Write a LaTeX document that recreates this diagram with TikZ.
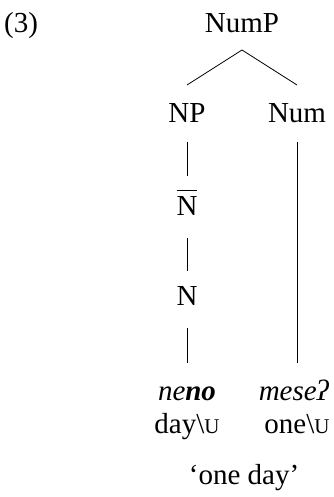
\documentclass[tikz,border=0pt]{standalone}
\usepackage{fontspec}
\setmainfont{Liberation Serif}
\begin{document}
\begin{tikzpicture}[x=1pt,y=-1pt,
  lab/.style={inner sep=0pt, outer sep=0pt, text height=20pt, text depth=6pt, anchor=base, font=\fontsize{29}{34}\selectfont},
  edge/.style={line width=0.8pt}]
\useasboundingbox (0,0) rectangle (333,497);
\newcommand{\sclU}{{\fontsize{21}{25}\selectfont U}}
\node[lab] (ex) at (21,33) {(3)};
\node[lab] (NumP) at (242,33) {NumP};
\node[lab] (NP) at (187,123) {NP};
\node[lab] (Num) at (297,123) {Num};
\node[lab] (Nbar) at (187,215) {\vbox{\hrule height 1.2pt\kern5pt\hbox{N}}};
\node[lab] (N) at (187,305) {N};
\node[lab] (neno) at (187,400) {\textit{ne\textbf{no}}};
\node[lab] (mese) at (294,400) {\textit{meseʔ}};
\node[lab] (day) at (187,433) {day\textbackslash\sclU};
\node[lab] (one) at (297,433) {one\textbackslash\sclU};
\node[lab] (tr) at (244,484) {‘one day’};
\draw[edge] ([yshift=-11pt]NumP.south) -- ([yshift=18pt]NP.north);
\draw[edge] ([yshift=-11pt]NumP.south) -- ([yshift=18pt]Num.north);
\draw[edge] ([yshift=-13pt]NP.south) -- ([yshift=19pt]Nbar.north);
\draw[edge] ([yshift=-17pt]Nbar.south) -- ([yshift=14pt]N.north);
\draw[edge] ([yshift=-17pt]N.south) -- ([yshift=17pt]neno.north);
\draw[edge] ([yshift=-13pt]Num.south) -- ([yshift=17pt,xshift=3pt]mese.north);
\end{tikzpicture}
\end{document}
